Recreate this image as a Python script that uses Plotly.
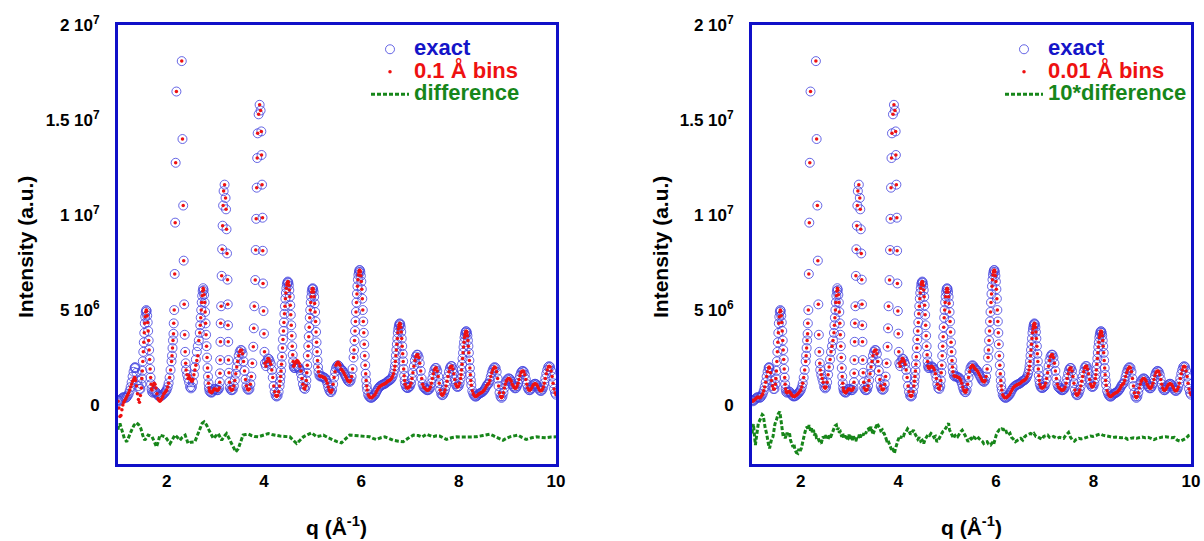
import plotly.graph_objects as go

# ---------------- DATA (intensity in units of 1e6) ----------------
# exact curve, (q, I) pairs
exact_a = [(1.00,0.25),(1.02,0.2),(1.04,0.25),(1.06,0.3),(1.08,0.35),(1.10,0.4),(1.12,0.42),(1.14,0.4),
           (1.16,0.38),(1.18,0.42),(1.20,0.5),(1.22,0.6),(1.24,0.75),(1.26,0.95),(1.28,1.2),(1.30,1.5),
           (1.32,1.75),(1.34,1.95),(1.35,2.0),(1.36,1.95),(1.38,1.7),(1.40,1.3),(1.42,1.0),(1.44,0.85),
           (1.46,0.85),(1.48,1.1),(1.49,1.4),(1.50,1.8),(1.51,2.3),(1.52,2.8),(1.53,3.3),(1.54,3.8),
           (1.55,4.3),(1.56,4.65),(1.57,4.9),(1.58,5.0),(1.59,4.95),(1.60,4.7),(1.61,4.35),(1.62,3.9),
           (1.63,3.4),(1.64,2.9),(1.65,2.4),(1.66,1.9),(1.67,1.45),(1.68,1.1),(1.69,0.85),(1.70,0.7),
           (1.72,0.65),(1.74,0.7),(1.76,0.72),(1.78,0.68),(1.80,0.6),(1.82,0.52),(1.84,0.47),(1.86,0.45),
           (1.88,0.47),(1.90,0.5),(1.92,0.55),(1.94,0.6),(1.96,0.65),(1.98,0.72),(2.00,0.8),(2.02,0.95),
           (2.04,1.15),(2.06,1.45),(2.08,1.85),(2.10,2.3),(2.11,2.6),(2.12,3.0),(2.13,3.4),(2.14,3.75)]
exact_b = [(2.145,4.3),(2.155,5.0),(2.165,6.9),(2.175,9.6),(2.185,12.75),(2.20,16.5),(2.31,18.1),
           (2.325,14.0),(2.34,10.5),(2.35,7.6),(2.36,5.3),(2.37,3.7),(2.38,2.8),(2.39,2.2),(2.40,1.85),
           (2.42,1.6),(2.44,1.4),(2.46,1.2),(2.48,0.95),(2.50,0.88),(2.52,0.95),(2.54,1.2),(2.56,1.6),
           (2.58,2.0),(2.60,2.4),(2.62,2.8),(2.64,3.1),(2.66,3.4),(2.68,3.8),(2.69,4.2),(2.70,4.6),
           (2.71,5.0),(2.72,5.4),(2.73,5.75),(2.74,6.0),(2.75,6.15),(2.76,6.05),(2.77,5.8),(2.78,5.4),
           (2.79,4.9),(2.80,4.3),(2.81,3.7),(2.82,3.1),(2.83,2.5),(2.84,1.95),(2.85,1.5),(2.86,1.15),
           (2.87,0.9),(2.88,0.75),(2.90,0.68),(2.92,0.65),(2.94,0.7),(2.96,0.78),(2.98,0.85),(3.00,0.85),
           (3.02,0.8),(3.04,0.78),(3.06,0.8),(3.08,0.9)]
exact_c = [(3.09,1.2),(3.095,1.67),(3.10,2.37),(3.105,3.33),(3.11,4.3),(3.12,5.2),(3.13,6.8),(3.14,8.2),
           (3.15,9.44),(3.16,10.5),(3.17,11.26),(3.19,11.6),(3.21,10.9),(3.22,10.3),(3.23,9.25),(3.24,7.98),
           (3.25,6.6),(3.255,5.3),(3.26,4.2),(3.265,3.33),(3.27,2.37),(3.28,1.7),(3.29,1.2),(3.30,0.9),
           (3.32,0.8),(3.34,0.78),(3.36,0.82),(3.38,1.0),(3.40,1.3),(3.42,1.65),(3.44,2.0),(3.46,2.3),
           (3.48,2.6),(3.50,2.8),(3.52,2.9),(3.54,2.88),(3.56,2.7),(3.58,2.3),(3.60,1.8),(3.62,1.35),
           (3.64,1.0),(3.66,0.85),(3.68,0.8),(3.70,0.85),(3.72,1.1),(3.74,1.5),(3.76,2.2),(3.78,3.07),
           (3.79,4.04),(3.80,5.2),(3.82,6.58),(3.83,8.16),(3.84,9.8),(3.85,11.44),(3.86,13.0),(3.87,14.3),
           (3.89,15.3),(3.91,15.8),(3.93,15.5),(3.945,14.4),(3.95,13.16),(3.96,11.6),(3.97,9.86),
           (3.975,8.12),(3.98,6.4),(3.99,4.95),(4.00,3.76),(4.01,2.8),(4.02,2.2),(4.04,2.05),(4.06,2.3),
           (4.08,2.45),(4.10,2.42),(4.12,2.3),(4.14,2.15),(4.16,1.85),(4.18,1.45),(4.20,1.0),(4.22,0.7),
           (4.24,0.5),(4.26,0.45),(4.28,0.5),(4.30,0.7),(4.32,1.0)]
exact_d = [(4.33,1.25),(4.34,1.5),(4.35,1.8),(4.36,2.15),(4.37,2.55),(4.38,3.0),(4.39,3.45),(4.40,3.9),
           (4.41,4.35),(4.42,4.8),(4.43,5.2),(4.44,5.6),(4.45,5.9),(4.46,6.15),(4.47,6.35),(4.48,6.45),
           (4.49,6.5),(4.50,6.45),(4.51,6.3),(4.52,6.05),(4.53,5.7),(4.54,5.25),(4.55,4.75),(4.56,4.2),
           (4.57,3.65),(4.58,3.1),(4.59,2.65),(4.60,2.3),(4.61,2.05),(4.62,1.95),(4.64,1.95),(4.66,2.0),
           (4.68,2.05),(4.70,2.0),(4.72,1.95),(4.74,1.85),(4.76,1.65),(4.78,1.4),(4.80,1.1),(4.82,0.9),
           (4.84,0.85),(4.86,1.0),(4.87,1.3),(4.88,1.7),(4.89,2.1),(4.90,2.6),(4.91,3.1),(4.92,3.6),
           (4.93,4.1),(4.94,4.6),(4.95,5.0),(4.96,5.4),(4.97,5.7),(4.98,5.95),(4.99,6.1),(5.00,6.15),
           (5.01,6.1),(5.02,5.95),(5.03,5.7),(5.04,5.35),(5.05,4.9),(5.06,4.4),(5.07,3.85),(5.08,3.3),
           (5.09,2.8),(5.10,2.35),(5.11,2.0),(5.12,1.75),(5.14,1.55),(5.16,1.5),(5.18,1.52),(5.20,1.5),
           (5.22,1.45),(5.24,1.45),(5.26,1.4),(5.28,1.3),(5.30,1.15),(5.32,0.95),(5.34,0.8),(5.36,0.7),
           (5.38,0.68),(5.40,0.8),(5.42,1.1),(5.44,1.45),(5.46,1.75),(5.48,1.95),(5.50,2.05),(5.52,2.1),
           (5.54,2.05),(5.56,1.95),(5.58,1.9),(5.60,1.85),(5.62,1.8),(5.64,1.7),(5.66,1.6),(5.68,1.5),
           (5.70,1.4),(5.72,1.3),(5.74,1.25),(5.76,1.22),(5.78,1.3),(5.80,1.5)]
exact_e = [(5.82,1.9),(5.84,2.5),(5.85,2.9),(5.86,3.4),(5.87,3.9),(5.88,4.4),(5.89,4.9),(5.90,5.4),
           (5.91,5.85),(5.92,6.25),(5.93,6.6),(5.94,6.85),(5.95,7.0),(5.96,7.1),(5.97,7.1),(5.98,7.0),
           (5.99,6.8),(6.00,6.5),(6.01,6.1),(6.02,5.6),(6.03,5.0),(6.04,4.4),(6.05,3.8),(6.06,3.2),
           (6.07,2.6),(6.08,2.1),(6.09,1.65),(6.10,1.3),(6.11,1.0),(6.12,0.8),(6.14,0.55),(6.16,0.45),
           (6.18,0.4),(6.20,0.38),(6.22,0.4),(6.24,0.45),(6.26,0.5),(6.28,0.55),(6.30,0.65),(6.32,0.75),
           (6.34,0.85),(6.36,0.92),(6.38,0.98),(6.40,1.02),(6.42,1.05),(6.44,1.08),(6.46,1.1),(6.48,1.12),
           (6.50,1.15),(6.52,1.2),(6.54,1.25),(6.56,1.28),(6.58,1.3),(6.60,1.35),(6.62,1.4),(6.64,1.5),
           (6.66,1.65),(6.68,1.85),(6.69,2.05),(6.70,2.3),(6.71,2.6),(6.72,2.9),(6.73,3.2),(6.74,3.5),
           (6.75,3.8),(6.76,4.0),(6.77,4.15),(6.78,4.25),(6.79,4.3),(6.80,4.25),(6.81,4.1),(6.82,3.85),
           (6.83,3.5),(6.84,3.1),(6.85,2.7),(6.86,2.3),(6.87,1.9),(6.88,1.55),(6.89,1.3),(6.90,1.1),
           (6.92,0.95),(6.94,0.9),(6.96,0.9),(6.98,0.95),(7.00,1.0),(7.02,1.15),(7.04,1.4),(7.06,1.7),
           (7.08,2.05),(7.10,2.35),(7.12,2.55),(7.14,2.65),(7.16,2.65),(7.18,2.5),(7.20,2.2),(7.22,1.8),
           (7.24,1.4),(7.26,1.1),(7.28,0.95)]
exact_f = [(7.30,0.9),(7.32,0.85),(7.34,0.8),(7.36,0.78),(7.38,0.8),(7.40,0.85),(7.42,0.95),(7.44,1.15),
           (7.46,1.4),(7.48,1.65),(7.50,1.85),(7.52,1.95),(7.54,1.95),(7.56,1.8),(7.58,1.5),(7.60,1.15),
           (7.62,0.8),(7.64,0.6),(7.66,0.52),(7.68,0.55),(7.70,0.65),(7.72,0.8),(7.74,1.0),(7.76,1.25),
           (7.78,1.5),(7.80,1.75),(7.82,1.95),(7.84,2.05),(7.86,2.05),(7.88,1.9),(7.90,1.65),(7.92,1.35),
           (7.94,1.1),(7.96,0.98),(7.98,0.95),(8.00,1.0),(8.02,1.15),(8.04,1.4),(8.05,1.6),(8.06,1.85),
           (8.07,2.15),(8.08,2.45),(8.09,2.75),(8.10,3.05),(8.11,3.3),(8.12,3.55),(8.13,3.7),(8.14,3.82),
           (8.15,3.88),(8.16,3.88),(8.17,3.8),(8.18,3.65),(8.19,3.4),(8.20,3.1),(8.21,2.75),(8.22,2.35),
           (8.23,1.95),(8.24,1.6),(8.25,1.3),(8.26,1.05),(8.28,0.75),(8.30,0.6),(8.32,0.5),(8.34,0.45),
           (8.36,0.45),(8.38,0.5),(8.40,0.55),(8.42,0.6),(8.44,0.62),(8.46,0.65),(8.48,0.68),(8.50,0.72),
           (8.52,0.78),(8.54,0.85),(8.56,0.95),(8.58,1.05),(8.60,1.1),(8.62,1.15),(8.64,1.3),(8.66,1.5),
           (8.68,1.7),(8.70,1.85),(8.72,1.95),(8.74,2.0),(8.76,1.95),(8.78,1.75),(8.80,1.4),(8.82,1.0),
           (8.84,0.65),(8.86,0.45),(8.88,0.38),(8.90,0.45),(8.92,0.65),(8.94,0.9),(8.96,1.1),(8.98,1.25),
           (9.00,1.35),(9.02,1.4),(9.04,1.4),(9.06,1.35),(9.08,1.25),(9.10,1.1),(9.12,1.0),(9.14,0.92),
           (9.16,0.88),(9.18,0.9),(9.20,1.0),(9.22,1.15),(9.24,1.35),(9.26,1.55),(9.28,1.7),(9.30,1.78),
           (9.32,1.8),(9.34,1.75),(9.36,1.6),(9.38,1.35),(9.40,1.1),(9.42,0.9),(9.44,0.8),(9.46,0.78),
           (9.48,0.82),(9.50,0.9),(9.52,1.0),(9.54,1.08),(9.56,1.12),(9.58,1.12),(9.60,1.08),(9.62,1.0),
           (9.64,0.9),(9.66,0.8),(9.68,0.75),(9.70,0.75),(9.72,0.82),(9.74,0.95),(9.76,1.15),(9.78,1.4),
           (9.80,1.65),(9.82,1.85),(9.84,2.0),(9.86,2.05),(9.88,2.0),(9.90,1.8),(9.92,1.5),(9.94,1.15),
           (9.96,0.85),(9.98,0.65),(10.00,0.55)]

# 0.1 A bins: values where they differ from the exact curve (q -> I)
bins01_diffs = {1.00:0.2, 1.02:-0.15, 1.04:-0.6, 1.06:-0.55, 1.08:-0.25, 1.10:0.0, 1.12:0.15, 1.14:0.25,
                1.16:0.35, 1.18:0.45, 1.20:0.55, 1.22:0.65, 1.24:0.8, 1.26:0.95, 1.28:1.1, 1.30:1.25,
                1.32:1.35, 1.34:1.45, 1.35:1.4, 1.36:1.3, 1.38:1.0, 1.40:0.6, 1.42:0.3, 1.44:0.15,
                1.46:0.5, 1.48:0.9, 1.70:0.8, 1.72:1.0, 1.74:1.15, 1.76:1.1, 1.78:0.9, 1.80:0.6,
                1.82:0.35, 1.84:0.25, 1.86:0.2, 1.88:0.25, 1.90:0.35, 1.92:0.45,
                2.46:1.55, 2.48:1.4, 2.50:1.3, 2.52:1.25, 2.54:1.35, 2.56:1.6, 2.58:1.85, 2.60:2.1,
                2.62:2.35, 2.64:2.6, 4.62:2.1, 4.64:2.2, 4.66:2.3, 4.68:2.35, 4.70:2.3, 4.72:2.2,
                4.74:2.05, 4.76:1.8, 5.48:2.1, 5.50:2.2, 5.52:2.25, 5.54:2.2, 5.56:2.1}

# difference (0.1 A bins), offset curve
diff01 = [(1.00,-1.3),(1.01,-1.14),(1.04,-0.97),(1.07,-1.2),(1.09,-1.4),(1.13,-1.75),(1.18,-1.93),(1.23,-1.6),
          (1.28,-1.32),(1.33,-1.05),(1.38,-0.93),(1.43,-1.05),(1.47,-1.23),(1.51,-1.6),(1.55,-1.85),(1.59,-1.7),
          (1.62,-1.58),(1.66,-1.62),(1.70,-1.67),(1.75,-1.95),(1.79,-2.2),(1.83,-1.9),(1.86,-1.58),(1.91,-1.62),
          (1.97,-1.67),(2.02,-1.85),(2.07,-2.02),(2.12,-1.8),(2.17,-1.58),(2.22,-1.7),(2.27,-1.85),(2.32,-1.7),
          (2.38,-1.58),(2.44,-2.02),(2.50,-1.95),(2.58,-1.93),(2.63,-1.6),(2.68,-1.23),(2.73,-0.95),(2.77,-0.88),
          (2.82,-1.05),(2.87,-1.32),(2.92,-1.6),(2.96,-1.76),(3.01,-1.62),(3.06,-1.5),(3.10,-1.7),(3.13,-1.85),
          (3.18,-1.65),(3.23,-1.5),(3.27,-1.7),(3.30,-1.85),(3.36,-2.2),(3.42,-2.46),(3.47,-2.3),(3.51,-2.02),
          (3.54,-1.8),(3.57,-1.58),(3.62,-1.55),(3.68,-1.53),(3.74,-1.6),(3.80,-1.65),(3.88,-1.67),(3.95,-1.62),
          (4.02,-1.55),(4.09,-1.5),(4.16,-1.55),(4.24,-1.6),(4.33,-1.63),(4.43,-1.65),(4.53,-1.67),(4.60,-1.85),
          (4.67,-2.02),(4.74,-1.85),(4.81,-1.67),(4.90,-1.55),(4.98,-1.46),(5.08,-1.67),(5.15,-1.62),(5.22,-1.58),
          (5.32,-1.72),(5.42,-1.85),(5.50,-1.92),(5.59,-1.99),(5.67,-1.8),(5.76,-1.58),(5.86,-1.6),(5.97,-1.63),
          (6.07,-1.65),(6.17,-1.67),(6.24,-1.75),(6.31,-1.81),(6.40,-1.72),(6.48,-1.67),(6.56,-1.75),(6.65,-1.85),
          (6.76,-1.9),(6.86,-1.93),(6.96,-1.75),(7.07,-1.58),(7.17,-1.6),(7.25,-1.68),(7.34,-1.53),(7.41,-1.6),
          (7.47,-1.67),(7.54,-1.62),(7.61,-1.63),(7.68,-1.72),(7.75,-1.81),(7.85,-1.72),(7.95,-1.67),(8.05,-1.68),
          (8.16,-1.67),(8.26,-1.7),(8.36,-1.67),(8.50,-1.6),(8.64,-1.53),(8.70,-1.6),(8.77,-1.67),(8.84,-1.78),
          (8.91,-1.85),(8.98,-1.75),(9.05,-1.67),(9.14,-1.62),(9.22,-1.58),(9.30,-1.7),(9.39,-1.81),(9.50,-1.72),
          (9.60,-1.67),(9.70,-1.7),(9.80,-1.72),(9.90,-1.68),(10.00,-1.67)]

# 10*difference (0.01 A bins), offset curve
diff001 = [(1.00,-1.5),(1.02,-1.2),(1.03,-1.0),(1.05,-1.6),(1.07,-2.1),(1.09,-1.7),(1.11,-1.2),(1.13,-0.95),
           (1.16,-0.8),(1.19,-0.65),(1.21,-0.5),(1.23,-0.55),(1.25,-0.9),(1.27,-1.2),(1.30,-1.5),(1.32,-1.9),
           (1.34,-2.1),(1.36,-2.28),(1.38,-2.0),(1.40,-1.8),(1.43,-1.67),(1.45,-1.3),(1.47,-1.0),(1.50,-0.79),
           (1.52,-0.6),(1.54,-0.45),(1.57,-0.35),(1.59,-0.6),(1.60,-0.9),(1.62,-1.3),(1.64,-1.67),(1.66,-1.5),
           (1.68,-1.75),(1.70,-1.6),(1.72,-1.45),(1.74,-1.6),(1.77,-1.5),(1.79,-1.85),(1.81,-2.0),(1.84,-2.2),
           (1.86,-2.05),(1.88,-2.35),(1.91,-2.5),(1.94,-2.54),(1.96,-2.3),(1.98,-2.45),(2.01,-2.28),(2.03,-2.0),
           (2.05,-1.75),(2.08,-1.49),(2.10,-1.3),(2.13,-1.14),(2.15,-1.3),(2.17,-1.05),(2.20,-1.35),(2.22,-1.23),
           (2.24,-1.45),(2.26,-1.3),(2.28,-1.6),(2.30,-1.45),(2.32,-1.7),(2.35,-1.67),(2.37,-1.85),(2.40,-1.95),
           (2.42,-2.02),(2.44,-1.8),(2.46,-1.65),(2.48,-1.75),(2.50,-1.6),(2.53,-1.7),(2.56,-1.81),(2.58,-1.6),
           (2.61,-1.7),(2.64,-1.5),(2.66,-1.35),(2.68,-1.2),(2.70,-1.1),(2.73,-1.05),(2.75,-1.3),(2.77,-1.2),
           (2.79,-1.45),(2.81,-1.4),(2.84,-1.67),(2.86,-1.5),(2.88,-1.75),(2.90,-1.6),(2.92,-1.8),(2.95,-1.7),
           (2.97,-1.74),(2.99,-1.55),(3.01,-1.8),(3.04,-1.6),(3.06,-1.85),(3.08,-1.65),(3.11,-1.81),(3.13,-1.9),
           (3.15,-1.7),(3.18,-1.75),(3.20,-1.55),(3.22,-1.7),(3.25,-1.5),(3.28,-1.6),(3.30,-1.4),(3.33,-1.5),
           (3.36,-1.3),(3.39,-1.25),(3.41,-1.4),(3.44,-1.14),(3.46,-1.35),(3.48,-1.55),(3.50,-1.4),(3.52,-1.25),
           (3.55,-1.05),(3.57,-0.96),(3.59,-1.1),(3.62,-1.2),(3.64,-1.35),(3.67,-1.3),(3.69,-1.45),(3.71,-1.49),
           (3.74,-1.7),(3.76,-1.85),(3.78,-1.8),(3.81,-2.02),(3.83,-2.19),(3.86,-2.35),(3.88,-2.25),(3.90,-2.45),
           (3.92,-2.54),(3.94,-2.3),(3.96,-2.1),(3.98,-1.9),(4.00,-1.8),(4.03,-1.65),(4.05,-1.74),(4.08,-1.55),
           (4.11,-1.6),(4.13,-1.45),(4.16,-1.4),(4.19,-1.25),(4.22,-1.35),(4.25,-1.55),(4.28,-1.4),(4.31,-1.32),
           (4.34,-1.5),(4.37,-1.65),(4.40,-1.8),(4.43,-1.7),(4.46,-1.9),(4.49,-1.85),(4.52,-2.02),(4.55,-1.8),
           (4.58,-1.7),(4.61,-1.55),(4.64,-1.6),(4.67,-1.49),(4.70,-1.55),(4.73,-1.7),(4.76,-1.65),(4.79,-1.93),
           (4.82,-1.84),(4.85,-1.7),(4.88,-1.55),(4.91,-1.4),(4.94,-1.35),(4.97,-1.2),(5.00,-1.1),(5.03,-0.96),
           (5.05,-1.3),(5.08,-1.5),(5.11,-1.6),(5.13,-1.75),(5.16,-1.6),(5.19,-1.55),(5.22,-1.65),(5.25,-1.5),
           (5.28,-1.4),(5.31,-1.32),(5.34,-1.5),(5.37,-1.6),(5.40,-1.75),(5.43,-1.93),(5.46,-1.8),(5.49,-1.75),
           (5.52,-1.84),(5.55,-1.7),(5.58,-1.75),(5.62,-1.65),(5.65,-1.75),(5.68,-1.8),(5.72,-1.9),(5.75,-2.02),
           (5.78,-1.95),(5.82,-1.93),(5.85,-2.05),(5.89,-2.1),(5.92,-2.0),(5.95,-2.1),(5.98,-1.8),(6.01,-1.55),
           (6.04,-1.4),(6.07,-1.3),(6.09,-1.32),(6.12,-1.25),(6.15,-1.3),(6.19,-1.23),(6.22,-1.45),(6.25,-1.58),
           (6.29,-1.49),(6.32,-1.7),(6.36,-1.8),(6.40,-1.93),(6.43,-1.88),(6.47,-1.8),(6.51,-1.75),(6.55,-1.84),
           (6.58,-1.7),(6.62,-1.6),(6.66,-1.55),(6.71,-1.49),(6.75,-1.55),(6.78,-1.49),(6.82,-1.65),(6.86,-1.67),
           (6.91,-1.75),(6.95,-1.8),(6.98,-1.65),(7.02,-1.6),(7.06,-1.58),(7.10,-1.7),(7.14,-1.72),(7.18,-1.65),
           (7.22,-1.7),(7.26,-1.75),(7.30,-1.7),(7.35,-1.72),(7.39,-1.75),(7.43,-1.6),(7.46,-1.49),(7.49,-1.44),
           (7.53,-1.7),(7.57,-1.84),(7.61,-1.9),(7.65,-1.8),(7.70,-1.75),(7.75,-1.78),(7.80,-1.75),(7.85,-1.72),
           (7.90,-1.68),(7.94,-1.63),(7.99,-1.65),(8.04,-1.6),(8.09,-1.55),(8.14,-1.52),(8.19,-1.58),(8.24,-1.62),
           (8.30,-1.65),(8.35,-1.67),(8.40,-1.7),(8.46,-1.68),(8.52,-1.7),(8.58,-1.72),(8.64,-1.7),(8.70,-1.8),
           (8.76,-1.75),(8.82,-1.72),(8.88,-1.75),(8.94,-1.7),(9.00,-1.68),(9.06,-1.72),(9.12,-1.7),(9.18,-1.75),
           (9.24,-1.82),(9.30,-1.75),(9.36,-1.7),(9.42,-1.68),(9.48,-1.67),(9.54,-1.7),(9.60,-1.72),(9.66,-1.7),
           (9.72,-1.85),(9.78,-1.9),(9.84,-1.84),(9.90,-1.75),(9.95,-1.6),(10.00,-1.55)]

x_tickvals = [2, 4, 6, 8, 10]
x_ticklabels = ["2", "4", "6", "8", "10"]
y_tickvals = [0, 5e6, 1e7, 1.5e7, 2e7]
y_ticklabels = ["0", "5 10<sup>6</sup>", "1 10<sup>7</sup>", "1.5 10<sup>7</sup>", "2 10<sup>7</sup>"]

SCALE = 1e6
# ---------------- BUILD ----------------
exact = exact_a + exact_b + exact_c + exact_d + exact_e + exact_f
q_ex = [p[0] for p in exact]
i_ex = [p[1] * SCALE for p in exact]
i_b01 = [bins01_diffs.get(round(p[0], 3), p[1]) * SCALE for p in exact]
q_d1 = [p[0] for p in diff01]
i_d1 = [p[1] * SCALE for p in diff01]
q_d2 = [p[0] for p in diff001]
i_d2 = [p[1] * SCALE for p in diff001]

BLUE = "#1010c8"
CIRC = "rgba(65,65,222,0.8)"
RED = "#ee1111"
GREEN = "#17861a"
FONT = "Liberation Sans"

def lname(txt, col):
    return '<b><span style="color:%s;font-size:22px">%s</span></b>' % (col, txt)

fig = go.Figure()
for (xa, ya, leg, binlab, difflab, ib, qd, idf) in [
        ("x", "y", "legend", "0.1 Å bins", "difference", i_b01, q_d1, i_d1),
        ("x2", "y2", "legend2", "0.01 Å bins", "10*difference", i_ex, q_d2, i_d2)]:
    fig.add_trace(go.Scatter(x=q_ex, y=i_ex, mode="markers", xaxis=xa, yaxis=ya, legend=leg,
                             name=lname("exact", "#1515c8"),
                             marker=dict(symbol="circle-open", size=9, color=CIRC, line=dict(width=1, color=CIRC))))
    fig.add_trace(go.Scatter(x=q_ex, y=ib, mode="markers", xaxis=xa, yaxis=ya, legend=leg,
                             name=lname(binlab, RED),
                             marker=dict(symbol="circle", size=3.5, color=RED)))
    fig.add_trace(go.Scatter(x=qd, y=idf, mode="lines", xaxis=xa, yaxis=ya, legend=leg,
                             name=lname(difflab, GREEN),
                             line=dict(color=GREEN, width=3, dash="4px,2px")))

W, H = 1204, 541
def fx(px): return px / W
def fy(py): return 1 - py / H

xcommon = dict(range=[1, 10], showline=True, linecolor=BLUE, linewidth=3, mirror=True,
               showgrid=False, zeroline=False, ticks="", automargin=False,
               tickvals=x_tickvals, ticktext=["<b>%s</b>" % t for t in x_ticklabels],
               tickfont=dict(family=FONT, size=17, color="black"), ticklabelstandoff=0)
ycommon = dict(range=[-3.1e6, 2.0e7], showline=True, linecolor=BLUE, linewidth=3, mirror=True,
               showgrid=False, zeroline=False, ticks="", automargin=False,
               tickvals=y_tickvals, ticktext=["<b>%s</b>" % t for t in y_ticklabels],
               tickfont=dict(family=FONT, size=17, color="black"), ticklabelstandoff=12)

legcommon = dict(xanchor="left", yanchor="top", bgcolor="rgba(0,0,0,0)",
                 font=dict(family=FONT, size=15), tracegroupgap=0, itemwidth=38)

fig.update_layout(
    width=W, height=H, margin=dict(l=0, r=0, t=0, b=0, autoexpand=False),
    paper_bgcolor="white", plot_bgcolor="white",
    xaxis=dict(domain=[fx(118), fx(556)], anchor="y", **xcommon),
    yaxis=dict(domain=[fy(464), fy(25)], anchor="x", **ycommon),
    xaxis2=dict(domain=[fx(752), fx(1191)], anchor="y2", **xcommon),
    yaxis2=dict(domain=[fy(464), fy(25)], anchor="x2", **ycommon),
    legend=dict(x=fx(366), y=fy(33), **legcommon),
    legend2=dict(x=fx(1000), y=fy(33), **legcommon),
    showlegend=True,
)

title_font = dict(family=FONT, size=21, color="black")
for cx in (25, 660):
    fig.add_annotation(text="<b>Intensity (a.u.)</b>", x=fx(cx), y=fy(247), xref="paper", yref="paper",
                       textangle=-90, showarrow=False, font=title_font, xanchor="center", yanchor="middle")
for cx in (337, 971):
    fig.add_annotation(text="<b>q (Å<sup>-1</sup>)</b>", x=fx(cx), y=fy(526), xref="paper", yref="paper",
                       showarrow=False, font=title_font, xanchor="center", yanchor="middle")

# remove the browser's default 8px page margin so the figure fills the window exactly
fig.write_html("out.html", config={"displayModeBar": False},
               post_script="document.body.style.margin='0';document.body.style.overflow='hidden';")
